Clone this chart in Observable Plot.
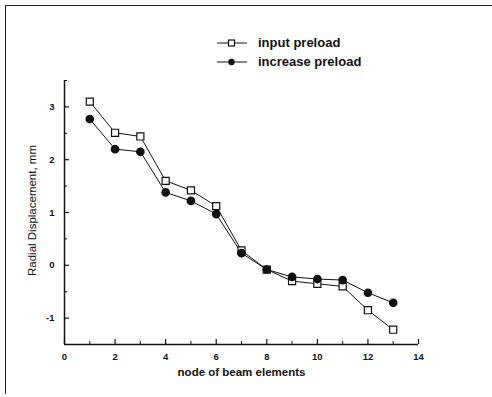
<!DOCTYPE html>
<html>
<head>
<meta charset="utf-8">
<script src="https://cdn.jsdelivr.net/npm/d3@7"></script>
<script src="https://cdn.jsdelivr.net/npm/@observablehq/plot@0.6"></script>
<style>
  html, body { margin: 0; padding: 0; background: #fff; }
  #page { position: relative; width: 492px; height: 397px; overflow: hidden; font-family: "Liberation Sans", Arial, sans-serif; }
  #frame { position: absolute; left: 5px; top: 5px; width: 487px; height: 388px; border-top: 1.5px solid #222; border-left: 1.5px solid #222; }
  #legend { position: absolute; left: 216px; top: 33px; height: 37px; font-size: 13px; font-weight: bold; color: #111; }
  #legend .row { display: flex; align-items: center; height: 19px; }
  #legend svg { margin-right: 8px; }
  #chart { position: absolute; left: 0; top: 70px; }
</style>
</head>
<body>
<div id="page">
  <div id="frame"></div>
  <div id="legend"></div>
  <div id="chart"></div>
</div>
<script>
const nodes = [1, 2, 3, 4, 5, 6, 7, 8, 9, 10, 11, 12, 13];
const inputPreload = [3.10, 2.51, 2.44, 1.60, 1.42, 1.12, 0.28, -0.08, -0.30, -0.35, -0.40, -0.85, -1.22];
const increasePreload = [2.77, 2.20, 2.15, 1.38, 1.22, 0.97, 0.23, -0.08, -0.22, -0.26, -0.28, -0.52, -0.71];
const seriesNames = ["input preload", "increase preload"];
const xMajorTicks = [0, 2, 4, 6, 8, 10, 12, 14];
const xMinorTicks = [1, 3, 5, 7, 9, 11, 13];
const yMajorTicks = [-1, 0, 1, 2, 3];
const yMinorTicks = [-0.5, 0.5, 1.5, 2.5, 3.5];

const inputData = nodes.map((n, i) => ({node: n, value: inputPreload[i]}));
const increaseData = nodes.map((n, i) => ({node: n, value: increasePreload[i]}));

// Legend
const legend = document.getElementById("legend");
seriesNames.forEach((name, i) => {
  const row = document.createElement("div");
  row.className = "row";
  const marker = i === 0
    ? '<rect x="12.5" y="4" width="6" height="6" fill="#fff" stroke="#111" stroke-width="1.2"/>'
    : '<circle cx="15.5" cy="7" r="3.2" fill="#111"/>';
  row.innerHTML = `<svg width="34" height="14"><line x1="1" x2="31" y1="7" y2="7" stroke="#111" stroke-width="1"/>${marker}</svg><span>${name}</span>`;
  legend.appendChild(row);
});

const W = 492, H = 327, ML = 64, MR = 74, MT = 10, MB = 53;
const frameW = W - ML - MR, frameH = H - MT - MB;
const font = "Liberation Sans, Arial, sans-serif";
const chart = Plot.plot({
  width: W,
  height: H,
  marginLeft: ML,
  marginRight: MR,
  marginTop: MT,
  marginBottom: MB,
  style: {fontFamily: font, fontSize: "9.5px", fontWeight: "bold", color: "#111", background: "transparent"},
  x: {domain: [0, 14]},
  y: {domain: [-1.5, 3.5]},
  marks: [
    Plot.axisX({ticks: xMajorTicks, tickSize: 0, tickPadding: 9, tickFormat: d => String(d), label: null}),
    Plot.axisY({ticks: yMajorTicks, tickSize: 0, tickPadding: 10, tickFormat: d => String(d), label: null}),
    // inward tick marks
    Plot.tickX(xMajorTicks, {x: d => d, insetTop: frameH - 5, stroke: "#111", strokeWidth: 1.2}),
    Plot.tickX(xMinorTicks, {x: d => d, insetTop: frameH - 3, stroke: "#111", strokeWidth: 1}),
    Plot.tickY(yMajorTicks, {y: d => d, insetRight: frameW - 5, stroke: "#111", strokeWidth: 1.2}),
    Plot.tickY(yMinorTicks, {y: d => d, insetRight: frameW - 3, stroke: "#111", strokeWidth: 1}),
    Plot.ruleY([-1.5], {stroke: "#111", strokeWidth: 1.5}),
    Plot.ruleX([0], {stroke: "#111", strokeWidth: 1.5}),
    Plot.line(inputData, {x: "node", y: "value", stroke: "#111", strokeWidth: 1}),
    Plot.line(increaseData, {x: "node", y: "value", stroke: "#111", strokeWidth: 1}),
    Plot.dot(inputData, {x: "node", y: "value", symbol: "square", r: 4, fill: "#fff", stroke: "#111", strokeWidth: 1.2}),
    Plot.dot(increaseData, {x: "node", y: "value", symbol: "circle", r: 3.6, fill: "#111", stroke: "#111"}),
    Plot.text(["node of beam elements"], {frameAnchor: "bottom", dy: 31, fontSize: 11.5, fontWeight: "bold", fill: "#111"}),
    Plot.text(["Radial Displacement, mm"], {frameAnchor: "left", textAnchor: "middle", dx: -32, dy: -2, rotate: -90, fontSize: 11.5, fontWeight: "normal", fill: "#111"})
  ]
});
document.getElementById("chart").appendChild(chart);
</script>
</body>
</html>
